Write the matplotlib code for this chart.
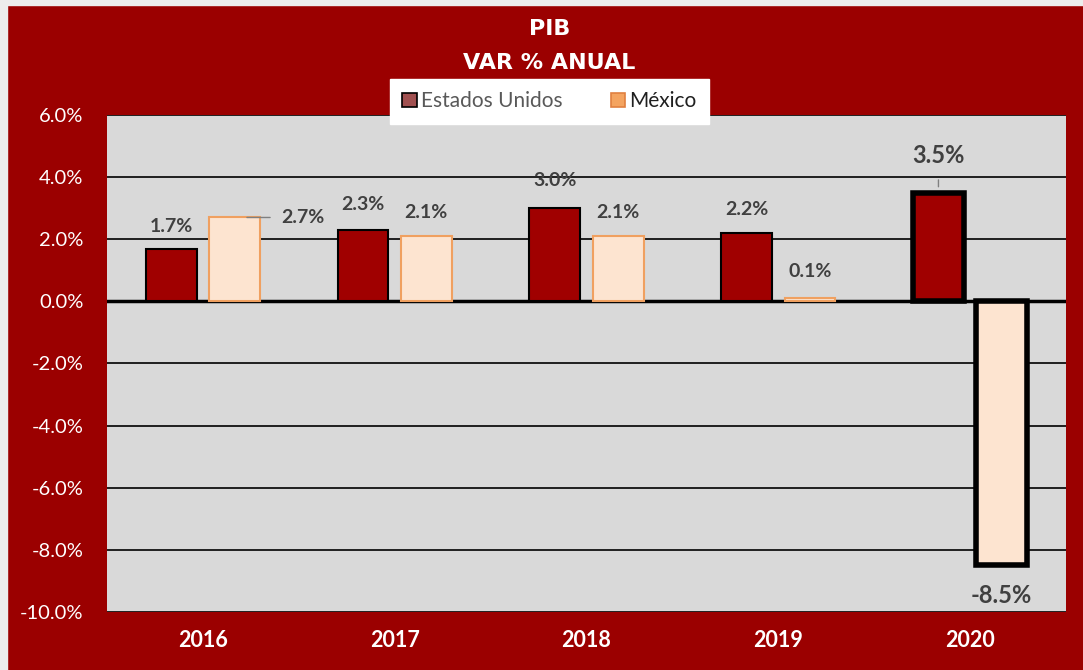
import matplotlib
matplotlib.use("Agg")
import matplotlib.pyplot as plt
from matplotlib.patches import Rectangle
from matplotlib.ticker import FuncFormatter
import numpy as np

years = ["2016", "2017", "2018", "2019", "2020"]
us = [1.7, 2.3, 3.0, 2.2, 3.5]
mx = [2.7, 2.1, 2.1, 0.1, -8.5]
yticks = [6, 4, 2, 0, -2, -4, -6, -8, -10]

RED = "#9B0000"
plt.rcParams['font.family'] = ['Lato', 'DejaVu Sans']

fig = plt.figure(figsize=(10.83, 6.70), dpi=100, facecolor=RED)
# light border strips
fig.patches.append(Rectangle((0, 0), 0.0065, 1, transform=fig.transFigure, color="#EDEDED", zorder=0))
fig.patches.append(Rectangle((0, 0.993), 1, 0.007, transform=fig.transFigure, color="#EDEDED", zorder=0))

ax = fig.add_axes([0.0988, 0.0866, 0.8855, 0.7418])
ax.set_facecolor("#D9D9D9")
x = np.arange(len(years))
w = 0.265
off = 0.165
us_lw = [1.5, 1.5, 1.5, 1.5, 4]
mx_lw = [1.5, 1.5, 1.5, 1.5, 4]
mx_ec = ["#F0A060", "#F0A060", "#F0A060", "#F0A060", "black"]
for i in range(len(years)):
    ax.bar(x[i] - off, us[i], w, color="#A00000", edgecolor="black", linewidth=us_lw[i], zorder=3)
    ax.bar(x[i] + off, mx[i], w, color="#FDE4D0", edgecolor=mx_ec[i], linewidth=mx_lw[i], zorder=3)

ax.set_xlim(-0.5, len(years) - 0.5)
ax.set_ylim(-10, 6)
ax.set_yticks(yticks)
ax.yaxis.set_major_formatter(FuncFormatter(lambda v, p: f"{v:.1f}%"))
ax.grid(axis="y", color="black", linewidth=1.2, zorder=1)
ax.axhline(0, color="black", linewidth=2.5, zorder=2)
ax.set_xticks(x)
ax.set_xticklabels(years, fontsize=15.5, fontweight="bold", color="white")
ax.tick_params(axis="y", labelsize=14.5, colors="white", length=0, pad=17)
ax.tick_params(axis="x", length=0, pad=13)
for s in ax.spines.values():
    s.set_visible(False)

# label offsets in points (dx, dy)
us_off = [(0, 16), (0, 18), (0, 20), (0, 17), (0, 27)]
mx_off = [(49, 0), (0, 17), (0, 17), (0, 19), (0, -22)]
for i in range(len(years)):
    fs = 17 if i == 4 else 14
    ax.annotate(f"{us[i]:.1f}%", (x[i] - off, us[i]), xytext=us_off[i], textcoords="offset points",
                fontsize=fs, fontweight="bold", color="#404040", ha="center", va="center", zorder=5)
    ax.annotate(f"{mx[i]:.1f}%", (x[i] + off, mx[i]), xytext=mx_off[i], textcoords="offset points",
                fontsize=fs, fontweight="bold", color="#404040", ha="center", va="center", zorder=5)
# leader lines
ax.annotate("", (x[0] + off + 0.05, mx[0]), xytext=(x[0] + off + 0.2, mx[0]),
            arrowprops=dict(arrowstyle="-", color="#808080", lw=1), zorder=5)
ax.annotate("", (x[4] - off, us[4] + 0.1), xytext=(x[4] - off, us[4] + 0.5),
            arrowprops=dict(arrowstyle="-", color="#808080", lw=1), zorder=5)

fig.text(0.5075, 0.957, "PIB", ha="center", va="center", color="white", fontsize=16,
         fontweight="bold", family="DejaVu Sans")
fig.text(0.5075, 0.906, "VAR % ANUAL", ha="center", va="center", color="white", fontsize=16,
         fontweight="bold", family="DejaVu Sans")

leg_handles = [Rectangle((0, 0), 1, 1, facecolor="#A05050", edgecolor="black", lw=1.2),
               Rectangle((0, 0), 1, 1, facecolor="#F4A460", edgecolor="#E08040", lw=1.2)]
leg = fig.legend(leg_handles, ["Estados Unidos", "México"], loc="center", bbox_to_anchor=(0.5075, 0.849),
                 ncol=2, frameon=True, fancybox=False, fontsize=15, handlelength=0.7, handleheight=0.7,
                 handletextpad=0.2, columnspacing=2.3, borderpad=0.6, borderaxespad=0,
                 edgecolor="white", facecolor="white", framealpha=1)
leg._legend_box.align = "center"
leg.get_texts()[0].set_color("#595959")
leg.get_texts()[1].set_color("#202020")
leg.set_zorder(10)
leg.borderpad = 0.6
for t in leg.get_texts():
    pass

fig.savefig("out.png", dpi=100, facecolor=fig.get_facecolor())
